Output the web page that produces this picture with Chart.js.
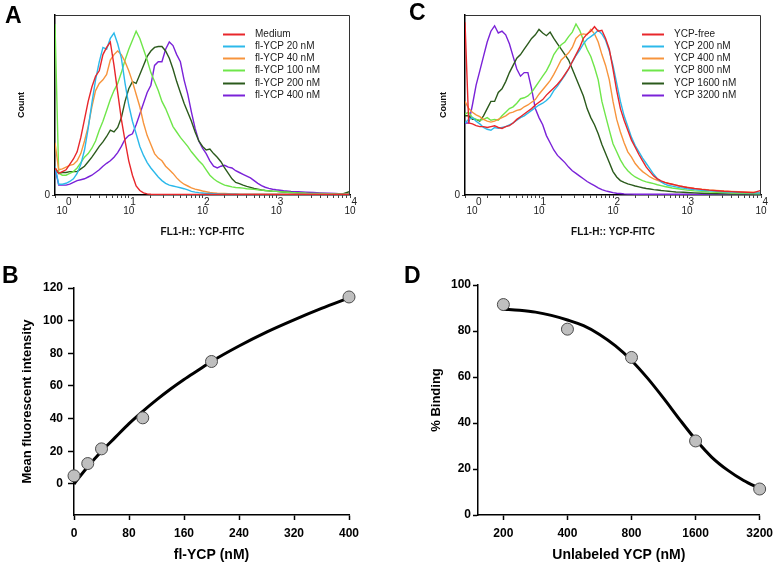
<!DOCTYPE html>
<html><head><meta charset="utf-8">
<script src="https://cdn.jsdelivr.net/npm/chart.js@4.4.1/dist/chart.umd.min.js"></script>
<style>
html,body{margin:0;padding:0;background:#fff;}
body{width:779px;height:568px;position:relative;overflow:hidden;}
canvas{position:absolute;}
.letter{position:absolute;font-family:"Liberation Sans",Arial,sans-serif;font-weight:bold;font-size:23px;line-height:23px;color:#000;}
</style></head>
<body>
<canvas id="chartA" width="390" height="250" style="left:0;top:0;width:390px;height:250px"></canvas>
<canvas id="chartC" width="389" height="250" style="left:390px;top:0;width:389px;height:250px"></canvas>
<canvas id="chartB" width="390" height="318" style="left:0;top:250px;width:390px;height:318px"></canvas>
<canvas id="chartD" width="389" height="318" style="left:390px;top:250px;width:389px;height:318px"></canvas>
<div class="letter" style="left:5px;top:4px">A</div>
<div class="letter" style="left:409px;top:1px">C</div>
<div class="letter" style="left:2px;top:264px">B</div>
<div class="letter" style="left:404px;top:264px">D</div>
<script>
// ---------- DATA ----------
// fluorescence channel positions (FL1-H), shared by all histograms
const fluorBins = [1,1.122,1.259,1.413,1.585,1.778,1.995,2.239,2.512,2.818,3.162,3.548,3.981,4.467,5.012,5.623,6.31,7.079,7.943,8.913,
  10,11.22,12.59,14.13,15.85,17.78,19.95,22.39,25.12,28.18,31.62,35.48,39.81,44.67,50.12,56.23,63.1,70.79,79.43,89.13,
  100,112.2,125.9,141.3,158.5,177.8,199.5,223.9,251.2,281.8,316.2,354.8,398.1,446.7,501.2,562.3,631,707.9,794.3,891.3,
  1000,1259,1585,1995,2512,3162,3981,5012,6310,7943,10000];

// Panel A: fl-YCP titration (relative counts)
const aLabels = ['Medium','fl-YCP 20 nM','fl-YCP 40 nM','fl-YCP 100 nM','fl-YCP 200 nM','fl-YCP 400 nM'];
const aMedium = [15,12,13,14,17,20,24,32,42,52,60,66,69,78,82,85,72,57,42,30,
  19,11,5,2.5,1.2,0.6,0.4,0.3,0.3,0.3,0.3,0.3,0.3,0.3,0.3,0.3,0.3,0.3,0.3,0.3,
  0.3,0.3,0.3,0.3,0.3,0.3,0.3,0.3,0.3,0.3,0.3,0.3,0.3,0.3,0.3,0.3,0.3,0.3,0.3,0.3,
  0.3,0.3,0.3,0.3,0.3,0.3,0.3,0.3,0.3,0.3,0.3];
const aYcp20 = [16,6,6,6.5,7.5,9,12,17,25,37,51,64,74,82,81,87,90,84,76,62,
  50,41,34,27,22,18,15,12.5,10,8,6.5,5.5,5,4.5,4,3.5,2.8,2,1.6,1.3,
  1.1,0.9,0.8,0.7,0.6,0.5,0.5,0.4,0.4,0.4,0.3,0.3,0.3,0.3,0.3,0.3,0.3,0.3,0.3,0.3,
  0.3,0.3,0.3,0.3,0.3,0.3,0.3,0.3,0.3,0.3,0.3];
const aYcp40 = [29,14,14.5,15.5,16.5,17,19,23,30,38,49,58,62,64,67,75,78,80,78,74,
  69,63,56,49,40,33,28,23,20.5,19,16,14,12,9.5,7.5,6,5,4,3.3,2.8,
  2.2,1.8,1.4,1.2,1,0.9,0.8,0.7,0.6,0.6,0.5,0.5,0.5,0.4,0.4,0.4,0.4,0.4,0.4,0.4,
  0.4,0.4,0.4,0.4,0.4,0.4,0.4,0.4,0.4,0.4,0.4];
const aYcp100 = [95,12,11,11,12,13,15,18,21,23,26,30,36,41,47,53,58,62,68,75,
  81,86,91,87,81,75,68,63,58,52,48,43,38,35,32,29.5,27,24,21.5,19,
  17,14,11,9,7.5,6.5,5.5,5,4.5,4.2,4,3.8,3.5,3.3,3.1,2.9,2.7,2.5,2.3,2.1,
  2,1.7,1.4,1.2,1,0.9,0.8,0.7,0.6,0.5,0.5];
const aYcp200 = [15,12,12.5,12.5,13,13,13,14.5,16,18.5,21,24,27,29.5,32.5,36,35,37.5,43,52,
  59,63,62,67,72,77,80,82,82.5,82.5,80,76,70,63,57,51,46,41,35,30,
  27,25,25.5,23,21,18.5,15,12,9,7,6.3,5.5,4.8,4.2,3.6,3.2,2.8,2.5,2.3,2.1,
  2,1.7,1.4,1.1,0.9,0.7,0.6,0.6,0.6,0.6,2];
const aYcp400 = [15,5.5,5.5,5.5,6,7,8,8.5,9,10,11,12.5,14,16,17.6,19,21,23.5,27,31,
  33,34,39,45,51,57,61,72,74,74,81,85,83,78,74,64,56,46,37,30,
  26,23,19,16,15,16,16.5,15.5,15,13.5,12.5,11.5,10.5,9.5,8,6.5,5.2,4.3,3.7,3.2,
  2.9,2.4,2,1.8,1.6,1.4,1.2,1,0.8,0.6,0.5];

// Panel C: competition with unlabeled YCP (relative counts)
const cLabels = ['YCP-free','YCP 200 nM','YCP 400 nM','YCP 800 nM','YCP 1600 nM','YCP 3200 nM'];
const cFree = [96,40,39.5,38.5,38,38,37.5,38,38.5,37.5,37,38,38.5,40,42,43.5,45,46.5,48,50,
  51.5,53,55.5,57.5,59.5,61.5,64,67,70,74,78,82,87,89.5,91,93.5,91,91.5,87,81,
  70,58,48,41.5,36,30.5,26.5,22.5,19,15.5,13,10.5,9,7.8,7,6.4,6,5.5,5,4.6,
  4.2,3.6,3.1,2.7,2.4,2.1,1.9,1.7,1.5,1.3,2.6];
const cYcp200 = [40,42,43,41,39.5,37.5,36.5,36,37.5,37,37.5,38,39,40,41.5,43,44,45.5,47,48.5,
  50,51,52.5,54.5,58,60.5,63.5,66.5,70,74,77.5,80.5,84,86.5,88,89.5,91.5,89.5,86,80,
  72,62,52,44,38,32,27.5,24,20.5,17.5,14.5,11.5,9,7.3,6,5.3,4.9,4.5,4.1,3.8,
  3.5,3,2.6,2.3,2,1.8,1.6,1.4,1.3,1.2,1.1];
const cYcp400 = [52,48,46,44.5,43.5,42,41,40.5,41,42,43,44,45.5,46,47,47.5,49,50,51.5,53,
  56,58.5,61,63.5,67,71,75,77,79,82,87,89,89.5,89,92,89.5,85,78,72,64,
  52,42,35,29,24,21,17.5,15,13,11.5,10,9,8.2,7.5,7,6.5,6,5.5,5,4.6,
  4.3,3.7,3.2,2.8,2.5,2.2,2,1.8,1.6,1.5,1.4];
const cYcp800 = [45,46,43,42,41.5,42,43,41.5,42,41.5,44,46,48,49,51,53.5,54,55,57,60,
  63,66,69,73,78,81,83.5,85,88,90.5,95,91.5,86,81,77,71,64,52,44,36,
  28.5,24,19.5,16,13.5,11.5,10,9,8,7.3,6.8,6.3,5.7,5.2,4.7,4.3,3.9,3.6,3.3,3,
  2.7,2.3,2,1.7,1.5,1.3,1.1,1,0.9,0.8,0.7];
const cYcp1600 = [44,44,42,42,41,44,48,52,52,57,59,63,68,72,76,78,81,84,87,89,
  92,90,88.5,90.5,87,84,81,78,75,70,65,60,55,48,43,39,34,28,23,18,
  13,10,8,7,6.2,5.6,5,4.5,4,3.6,3.3,3,2.8,2.5,2.3,2.1,1.9,1.7,1.6,1.5,
  1.4,1.2,1,0.8,0.7,0.6,0.5,0.5,0.5,0.5,0.5];
const cYcp3200 = [40,40,50,61,69,77,85,91,94,90,91,89,84,77,70,66,68,68,59,48,
  43,39,33,29,25,22,20,18,15.5,13.5,12,10.5,9,7.5,6.3,5.2,4,3,2.3,1.8,
  1.3,1,0.8,0.6,0.5,0.5,0.4,0.4,0.4,0.4,0.4,0.4,0.4,0.4,0.4,0.4,0.4,0.4,0.4,0.4,
  0.4,0.4,0.4,0.4,0.4,0.4,0.4,0.4,0.4,0.4,0.4];

const histColors = ['#e8262b','#2cb9ea','#f7943c','#6fe64a','#2b5a1c','#7a22d8'];
const histTickValues = [1,2,3,4,5,6,7,8,9,10,20,30,40,50,60,70,80,90,100,200,300,400,500,600,700,800,900,
  1000,2000,3000,4000,5000,6000,7000,8000,9000,10000];
const histMajorTicks = [1,10,100,1000,10000];
const histTickExponents = ['0','1','2','3','4'];

// Panel B: saturation binding
const bConc = [0,20,40,100,200,400];
const bMFI = [5,12.5,21.5,40.5,75,114.5];
const bFitX = [0,20,40,60,80,100,120,140,160,180,200,240,280,320,360,400];
const bFitY = [0,10.5,20,28.5,37,44.5,51.5,58,64,69.5,75,84.5,93,100.5,107.5,114];
const bXTicks = [0,80,160,240,320,400];
const bYTicks = [0,20,40,60,80,100,120];

// Panel D: competition binding
const dConc = [200,400,800,1600,3200];
const dBinding = [91.5,80.8,68.5,32.2,11.3];
const dFitX = [200,238,283,336,400,476,566,673,800,951,1131,1345,1600,1903,2263,2691,3200];
const dFitY = [89.5,89,88.2,86.8,84.8,82.3,78.5,73.5,67.2,59.5,50.8,41.6,32.8,25.2,19.5,15,11.5];
const dXTicks = [200,400,800,1600,3200];
const dXTickLabels = ['200','400','800','1600','3200'];
const dYTicks = [0,20,40,60,80,100];

// ---------- RENDER ----------
Chart.defaults.font.family = '"Liberation Sans", Arial, Helvetica, sans-serif';
Chart.defaults.color = '#000';

const inlineLegend = {
  id: 'inlineLegend',
  afterDraw(chart, args, opts) {
    if (!opts || !opts.show) return;
    const ctx = chart.ctx, ca = chart.chartArea;
    ctx.save();
    ctx.font = opts.font;
    ctx.textBaseline = 'middle';
    ctx.textAlign = 'left';
    chart.data.datasets.forEach((ds, i) => {
      const y = Math.round(ca.top + opts.y0 + i * opts.dy) + 0.5;
      ctx.strokeStyle = ds.borderColor;
      ctx.lineWidth = opts.lineWidth;
      ctx.beginPath();
      ctx.moveTo(ca.left + opts.x0, y);
      ctx.lineTo(ca.left + opts.x0 + opts.len, y);
      ctx.stroke();
      ctx.fillStyle = opts.color;
      ctx.fillText(ds.label, ca.left + opts.tx, y);
    });
    ctx.restore();
  }
};
const frame = {
  id: 'frame',
  afterDatasetsDraw(chart, args, opts) {
    if (!opts || !opts.show) return;
    const ctx = chart.ctx, ca = chart.chartArea;
    ctx.save();
    ctx.strokeStyle = opts.color;
    ctx.lineWidth = 1;
    ctx.beginPath();
    ctx.moveTo(ca.left, ca.top + 0.5);
    ctx.lineTo(ca.right - 0.5, ca.top + 0.5);
    ctx.lineTo(ca.right - 0.5, ca.bottom);
    ctx.stroke();
    ctx.restore();
  }
};
Chart.register(inlineLegend, frame);

function histTickLabel(value) {
  const i = histMajorTicks.indexOf(value);
  if (i < 0) return '';
  const e = histTickExponents[i];
  if (i === 0) return ['          ' + e, '     10'];
  return ['   ' + e, '10'];
}

function histChart(id, labels, series, rightPad, yAxisWidth, yTitlePad, legendX0) {
  return new Chart(document.getElementById(id), {
    type: 'scatter',
    data: {
      datasets: series.map((s, i) => ({
        label: labels[i],
        data: fluorBins.map((x, j) => ({ x: x, y: s[j] })),
        showLine: true,
        borderColor: histColors[i],
        backgroundColor: histColors[i],
        borderWidth: 1.4,
        pointRadius: 0,
        tension: 0
      }))
    },
    options: {
      responsive: false, animation: false, devicePixelRatio: 1,
      layout: { padding: { top: 15, right: rightPad, left: 0, bottom: 0 }, autoPadding: false },
      plugins: {
        legend: { display: false }, tooltip: { enabled: false },
        inlineLegend: { show: true, x0: legendX0, len: 22, tx: legendX0 + 32, y0: 18.7, dy: 12.2, lineWidth: 2, font: '10px "Liberation Sans", Arial, sans-serif', color: '#222' },
        frame: { show: true, color: '#333' }
      },
      scales: {
        x: {
          type: 'logarithmic', min: 1, max: 10000,
          afterBuildTicks: s => { s.ticks = histTickValues.map(v => ({ value: v })); },
          afterFit: s => { s.height = 55; },
          ticks: { autoSkip: false, maxRotation: 0, minRotation: 0, padding: 0, color: '#222',
                   font: { size: 10, lineHeight: 0.85 }, callback: histTickLabel },
          grid: { drawOnChartArea: false, drawTicks: true, tickLength: 3, tickColor: '#444', tickWidth: 1 },
          border: { display: true, color: '#000', width: 1.5 },
          title: { display: true, text: 'FL1-H:: YCP-FITC', color: '#111', font: { size: 10, weight: 'bold' }, padding: { top: 0, bottom: 12 } }
        },
        y: {
          min: 0, max: 100,
          afterBuildTicks: s => { s.ticks = [{ value: 0 }]; },
          afterFit: s => { s.width = yAxisWidth; },
          ticks: { callback: () => '0', color: '#222', font: { size: 10 }, padding: 2 },
          grid: { drawOnChartArea: false, tickLength: 3, tickColor: '#444' },
          border: { color: '#000', width: 1.5 },
          title: { display: true, text: 'Count', color: '#111', font: { size: 9, weight: 'bold' }, padding: { top: yTitlePad, bottom: 0 } }
        }
      }
    }
  });
}

histChart('chartA', aLabels, [aMedium, aYcp20, aYcp40, aYcp100, aYcp200, aYcp400], 40, 55, 16, 168);
histChart('chartC', cLabels, [cFree, cYcp200, cYcp400, cYcp800, cYcp1600, cYcp3200], 18, 75, 48, 177);

function bindingOptions(cfg) {
  return {
    responsive: false, animation: false, devicePixelRatio: 1,
    layout: { padding: { top: cfg.top, right: cfg.right, left: 0, bottom: 0 }, autoPadding: false },
    plugins: { legend: { display: false }, tooltip: { enabled: false } },
    scales: {
      x: Object.assign({
        afterBuildTicks: s => { s.ticks = cfg.xTicks.map(v => ({ value: v })); },
        afterFit: s => { s.height = 53; },
        ticks: { autoSkip: false, maxRotation: 0, minRotation: 0, padding: 6, color: '#000',
                 font: { size: 12, weight: 'bold' }, callback: cfg.xLabel },
        grid: { drawOnChartArea: false, tickLength: 5, tickColor: '#000', tickWidth: 1.5 },
        border: { color: '#000', width: 1.5 },
        title: { display: true, text: cfg.xTitle, color: '#000', font: { size: 14, weight: 'bold' }, padding: { top: 0, bottom: 4 } }
      }, cfg.xScale),
      y: {
        min: cfg.yMin, max: cfg.yMax,
        afterBuildTicks: s => { s.ticks = cfg.yTicks.map(v => ({ value: v })); },
        afterFit: s => { s.width = cfg.yWidth; },
        ticks: { padding: cfg.yPad, color: '#000', font: { size: 12, weight: 'bold' } },
        grid: { drawOnChartArea: false, tickLength: cfg.yTickLen, tickColor: '#000', tickWidth: 1.5 },
        border: { color: '#000', width: 1.5 },
        title: { display: true, text: cfg.yTitle, color: '#000', font: { size: 13, weight: 'bold' }, padding: { top: cfg.yTitlePad, bottom: 0 } }
      }
    }
  };
}

function bindingData(xs, ys, fx, fy) {
  return {
    datasets: [
      { label: 'data', data: xs.map((x, i) => ({ x: x, y: ys[i] })), showLine: false,
        pointRadius: 6, pointBackgroundColor: '#bfbfbf', pointBorderColor: '#4a4a4a', pointBorderWidth: 1, clip: false },
      { label: 'fit', data: fx.map((x, i) => ({ x: x, y: fy[i] })), showLine: true, pointRadius: 0,
        borderColor: '#000', borderWidth: 3, cubicInterpolationMode: 'monotone', clip: false }
    ]
  };
}

new Chart(document.getElementById('chartB'), {
  type: 'scatter',
  data: bindingData(bConc, bMFI, bFitX, bFitY),
  options: bindingOptions({
    top: 38, right: 41, xTicks: bXTicks, xLabel: v => String(v), xTitle: 'fl-YCP (nM)',
    xScale: { type: 'linear', min: 0, max: 400 },
    yMin: -19, yMax: 120, yTicks: bYTicks, yWidth: 74, yPad: 5, yTickLen: 6,
    yTitle: 'Mean fluorescent intensity', yTitlePad: 20
  })
});

new Chart(document.getElementById('chartD'), {
  type: 'scatter',
  data: bindingData(dConc, dBinding, dFitX, dFitY),
  options: bindingOptions({
    top: 35, right: 17, xTicks: dXTicks, xLabel: v => dXTickLabels[dXTicks.indexOf(v)] || '', xTitle: 'Unlabeled YCP (nM)',
    xScale: { type: 'logarithmic', min: 152, max: 3200 },
    yMin: 0, yMax: 100, yTicks: dYTicks, yWidth: 88, yPad: 2, yTickLen: 5,
    yTitle: '% Binding', yTitlePad: 39
  })
});
</script>
</body></html>
